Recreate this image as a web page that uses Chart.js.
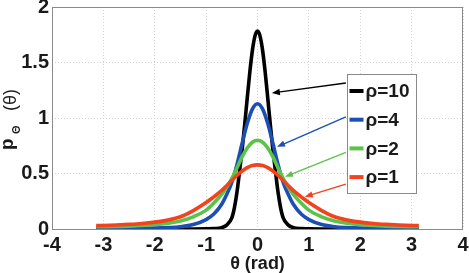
<!DOCTYPE html>
<html>
<head>
<meta charset="utf-8">
<script src="https://cdn.jsdelivr.net/npm/chart.js@4.4.0/dist/chart.umd.min.js"></script>
<style>
  html, body { margin: 0; padding: 0; background: #fff; }
</style>
</head>
<body>
<canvas id="myChart" width="469" height="273"></canvas>
<script>
// theta samples (rad)
const thetaNarrow = [-3.14, -2, -1.5, -1, -0.85, -0.7, -0.6, -0.5, -0.45, -0.4, -0.35, -0.3, -0.25, -0.2, -0.15, -0.1, -0.05,
  0, 0.05, 0.1, 0.15, 0.2, 0.25, 0.3, 0.35, 0.4, 0.45, 0.5, 0.6, 0.7, 0.85, 1, 1.5, 2, 3.14];
const thetaWide = [-3.14, -2.75, -2.5, -2.25, -2, -1.75, -1.5, -1.25, -1, -0.85, -0.7, -0.6, -0.5, -0.4, -0.3, -0.2, -0.1,
  0, 0.1, 0.2, 0.3, 0.4, 0.5, 0.6, 0.7, 0.85, 1, 1.25, 1.5, 1.75, 2, 2.25, 2.5, 2.75, 3.14];

// p(theta)
const rho10 = [0, 0, 0, 0.002, 0.004, 0.012, 0.035, 0.1, 0.19, 0.33, 0.517, 0.712, 0.937, 1.178, 1.411, 1.607, 1.738,
  1.784, 1.738, 1.607, 1.411, 1.178, 0.937, 0.712, 0.517, 0.33, 0.19, 0.1, 0.035, 0.012, 0.004, 0.002, 0, 0, 0];
const rho4 = [0.005, 0.005, 0.005, 0.006, 0.008, 0.012, 0.02, 0.04, 0.085, 0.135, 0.22, 0.31, 0.42, 0.58, 0.77, 0.95, 1.08,
  1.129, 1.08, 0.95, 0.77, 0.58, 0.42, 0.31, 0.22, 0.135, 0.085, 0.04, 0.02, 0.012, 0.008, 0.006, 0.005, 0.005, 0.005];
const rho2 = [0.02, 0.022, 0.026, 0.032, 0.04, 0.052, 0.072, 0.11, 0.17, 0.235, 0.31, 0.375, 0.455, 0.55, 0.65, 0.73, 0.782,
  0.8, 0.782, 0.73, 0.65, 0.55, 0.455, 0.375, 0.31, 0.235, 0.17, 0.11, 0.072, 0.052, 0.04, 0.032, 0.026, 0.022, 0.02];
const rho1 = [0.03, 0.036, 0.042, 0.05, 0.062, 0.08, 0.11, 0.166, 0.238, 0.29, 0.345, 0.39, 0.437, 0.482, 0.522, 0.553, 0.572,
  0.578, 0.572, 0.553, 0.522, 0.482, 0.437, 0.39, 0.345, 0.29, 0.238, 0.166, 0.11, 0.08, 0.062, 0.05, 0.042, 0.036, 0.03];

const seriesLabels = ['ρ=10', 'ρ=4', 'ρ=2', 'ρ=1'];
const xTicks = [-4, -3, -2, -1, 0, 1, 2, 3, 4];
const yTicks = [0, 0.5, 1, 1.5, 2];

const colors = ['#000000', '#1c4fb3', '#5cc24a', '#f4421f'];
const FONT = "'Liberation Sans', Arial, sans-serif";

const pts = (xs, ys) => xs.map((x, i) => ({ x: x, y: ys[i] }));

// draws the axes box, the y title, legend box and the arrows
const decorations = {
  id: 'decorations',
  beforeDatasetsDraw(chart) {
    const { ctx, chartArea: a } = chart;
    ctx.save();
    ctx.strokeStyle = '#8a8a8a';
    ctx.lineWidth = 1;
    ctx.strokeRect(a.left + 0.5, a.top + 0.5, a.right - a.left - 1, a.bottom - a.top);
    ctx.restore();
  },
  afterDraw(chart) {
    const { ctx } = chart;
    const xs = chart.scales.x, ys = chart.scales.y;
    const px = v => xs.getPixelForValue(v), py = v => ys.getPixelForValue(v);

    // y title: p_Θ (θ)
    ctx.save();
    ctx.translate(0, 150);
    ctx.rotate(-Math.PI / 2);
    ctx.fillStyle = '#1a1a1a';
    ctx.textBaseline = 'alphabetic';
    ctx.font = 'bold 19px ' + FONT;
    ctx.fillText('p', 0, 13);
    ctx.font = 'bold 11px ' + FONT;
    ctx.fillText('Θ', 16, 20);
    ctx.font = '18px ' + FONT;
    ctx.fillText('(θ)', 39, 16);
    ctx.restore();

    // arrows from legend to curves
    const arrows = [
      [1.72, 1.315, 0.28, 1.225],
      [1.72, 1.01, 0.38, 0.74],
      [1.72, 0.69, 0.535, 0.47],
      [1.72, 0.405, 0.92, 0.29]
    ];
    arrows.forEach((a, i) => {
      const x0 = px(a[0]), y0 = py(a[1]), x1 = px(a[2]), y1 = py(a[3]);
      const ang = Math.atan2(y1 - y0, x1 - x0);
      const L = 8, W = 3.2;
      ctx.save();
      ctx.strokeStyle = colors[i];
      ctx.fillStyle = colors[i];
      ctx.lineWidth = 1.4;
      ctx.beginPath();
      ctx.moveTo(x0, y0);
      ctx.lineTo(x1 - Math.cos(ang) * L * 0.8, y1 - Math.sin(ang) * L * 0.8);
      ctx.stroke();
      ctx.beginPath();
      ctx.moveTo(x1, y1);
      ctx.lineTo(x1 - Math.cos(ang) * L - Math.sin(ang) * W, y1 - Math.sin(ang) * L + Math.cos(ang) * W);
      ctx.lineTo(x1 - Math.cos(ang) * L + Math.sin(ang) * W, y1 - Math.sin(ang) * L - Math.cos(ang) * W);
      ctx.closePath();
      ctx.fill();
      ctx.restore();
    });

    // legend
    const left = Math.round(px(1.735)) + 0.5, right = Math.round(px(3.08)) + 0.5;
    const top = Math.round(py(1.395)) + 0.5, bottom = Math.round(py(0.325)) + 0.5;
    ctx.save();
    ctx.fillStyle = '#ffffff';
    ctx.fillRect(left, top, right - left, bottom - top);
    ctx.strokeStyle = '#8a8a8a';
    ctx.lineWidth = 1;
    ctx.strokeRect(left, top, right - left, bottom - top);
    ctx.font = 'bold 19px ' + FONT;
    ctx.textBaseline = 'middle';
    seriesLabels.forEach((lab, i) => {
      const yy = top + 16.5 + i * 28.7;
      ctx.strokeStyle = colors[i];
      ctx.lineWidth = 4;
      ctx.beginPath();
      ctx.moveTo(left + 2, yy);
      ctx.lineTo(left + 16, yy);
      ctx.stroke();
      ctx.fillStyle = '#1a1a1a';
      ctx.fillText(lab, left + 18, yy + 1);
    });
    ctx.restore();
  }
};

const series = [rho10, rho4, rho2, rho1];
const thetas = [thetaNarrow, thetaWide, thetaWide, thetaWide];

const datasets = series.map((s, i) => ({
  label: seriesLabels[i],
  data: pts(thetas[i], s),
  borderColor: colors[i],
  borderWidth: 3.6,
  pointRadius: 0,
  fill: false,
  cubicInterpolationMode: 'monotone',
  order: 3 - i
}));

new Chart(document.getElementById('myChart').getContext('2d'), {
  type: 'line',
  data: { datasets: datasets },
  plugins: [decorations],
  options: {
    responsive: false,
    animation: false,
    devicePixelRatio: 1,
    layout: { padding: { left: 0, right: 6, top: 7, bottom: 0 } },
    plugins: { legend: { display: false }, tooltip: { enabled: false } },
    scales: {
      x: {
        type: 'linear',
        min: -4,
        max: 4,
        afterBuildTicks: s => { s.ticks = xTicks.map(v => ({ value: v })); },
        afterFit: s => { s.height = 44; s.paddingLeft = 0; s.paddingRight = 0; },
        ticks: { color: '#1a1a1a', padding: 4, callback: v => String(v), font: { family: FONT, size: 20, weight: 'bold' } },
        grid: { color: '#d2d2d2', drawTicks: false },
        border: { display: false, dash: [1, 2] },
        title: {
          display: true,
          text: 'θ (rad)',
          color: '#1a1a1a',
          padding: { top: 0, bottom: 0 },
          font: { family: FONT, size: 18, weight: 'bold', lineHeight: 1 }
        }
      },
      y: {
        min: 0,
        max: 2,
        afterBuildTicks: s => { s.ticks = yTicks.map(v => ({ value: v })); },
        afterFit: s => { s.width = 52; s.paddingTop = 0; s.paddingBottom = 0; },
        ticks: { color: '#1a1a1a', padding: 3, callback: v => String(v), font: { family: FONT, size: 20, weight: 'bold' } },
        grid: { color: '#d2d2d2', drawTicks: false },
        border: { display: false, dash: [1, 2] }
      }
    }
  }
});
</script>
</body>
</html>
